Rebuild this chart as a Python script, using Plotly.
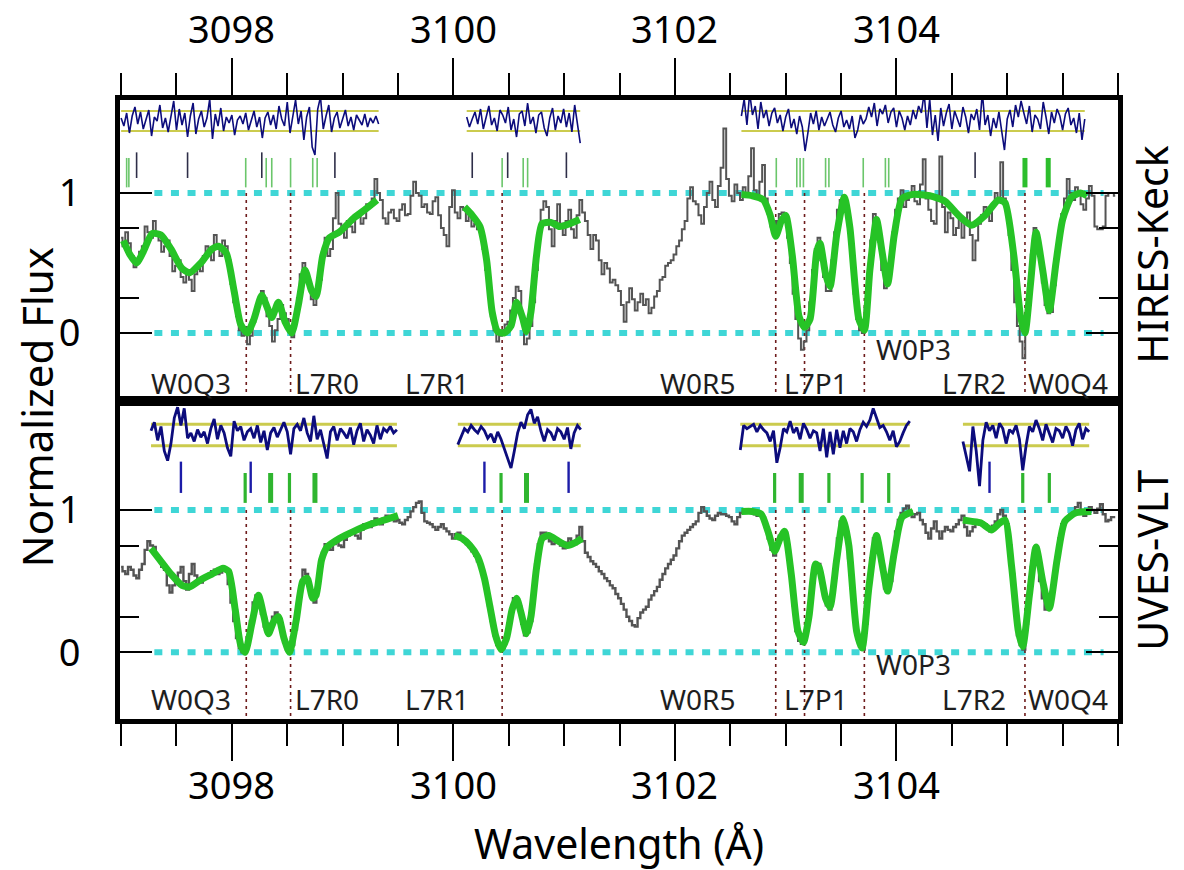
import numpy as np
import plotly.graph_objects as go

# ---------------------------------------------------------------- data
# HIRES spectrum, sampled every 0.025 Å from 3097.00 Å
HIRES_START = 3097.00
HIRES_STEP = 0.025
flux_hires = [
    0.68, 0.62, 0.72, 0.64, 0.55, 0.47, 0.50, 0.58, 0.62, 0.76, 0.72, 0.68, 0.80, 0.70, 0.66, 0.58, 0.62, 0.66, 0.55, 0.44,
    0.48, 0.52, 0.40, 0.36, 0.45, 0.38, 0.30, 0.42, 0.48, 0.44, 0.55, 0.62, 0.58, 0.52, 0.70, 0.60, 0.55, 0.66, 0.62, 0.52,
    0.35, 0.22, 0.12, 0.02, -0.02, 0.04, -0.08, -0.02, 0.08, 0.18, 0.24, 0.30, 0.25, 0.12, 0.05, -0.06, 0.02, 0.10, 0.20, 0.14,
    0.10, 0.02, -0.03, 0.10, 0.25, 0.42, 0.50, 0.44, 0.35, 0.24, 0.20, 0.30, 0.38, 0.58, 0.68, 0.55, 0.60, 0.82, 1.00, 0.78,
    0.74, 0.68, 0.80, 0.76, 0.72, 0.84, 0.86, 0.78, 0.82, 0.92, 0.90, 0.96, 1.10, 1.00, 0.95, 0.82, 0.78, 0.86, 0.88, 0.82,
    0.80, 0.88, 0.92, 0.84, 0.85, 0.98, 1.08, 1.00, 0.98, 0.90, 0.92, 0.86, 0.85, 0.94, 0.97, 0.84, 0.75, 0.70, 0.62, 0.90,
    1.02, 0.86, 0.82, 0.90, 0.88, 0.80, 0.84, 0.76, 0.78, 0.74, 0.72, 0.60, 0.45, 0.28, 0.12, 0.02, -0.06, -0.02, 0.02, 0.06,
    0.08, 0.16, 0.25, 0.33, 0.30, 0.12, -0.08, -0.04, 0.05, 0.22, 0.45, 0.70, 0.88, 0.94, 0.90, 0.74, 0.62, 0.80, 0.92, 0.78,
    0.70, 0.80, 0.88, 0.74, 0.68, 0.84, 0.95, 0.86, 0.80, 0.70, 0.60, 0.70, 0.66, 0.52, 0.42, 0.50, 0.46, 0.36, 0.38, 0.34,
    0.30, 0.20, 0.08, 0.22, 0.32, 0.24, 0.16, 0.22, 0.28, 0.20, 0.24, 0.14, 0.18, 0.26, 0.30, 0.38, 0.40, 0.48, 0.50, 0.52,
    0.56, 0.62, 0.66, 0.74, 0.80, 0.96, 1.04, 0.94, 0.92, 0.84, 0.78, 0.90, 1.00, 1.08, 0.95, 0.90, 1.05, 1.18, 1.46, 1.10,
    0.98, 0.94, 1.06, 1.00, 0.95, 1.04, 1.00, 1.12, 1.32, 1.02, 0.97, 1.08, 1.20, 0.96, 0.85, 0.76, 0.70, 0.80, 0.85, 0.86,
    0.80, 0.68, 0.50, 0.28, 0.10, -0.04, -0.12, -0.06, 0.02, 0.22, 0.45, 0.60, 0.68, 0.52, 0.40, 0.30, 0.30, 0.52, 0.72, 0.88,
    0.95, 0.98, 0.90, 0.74, 0.55, 0.28, 0.10, 0.02, 0.00, 0.18, 0.40, 0.66, 0.85, 0.78, 0.65, 0.45, 0.32, 0.38, 0.50, 0.72,
    0.88, 0.96, 1.02, 0.90, 0.95, 1.00, 1.05, 0.94, 0.92, 1.06, 1.24, 0.96, 0.88, 0.80, 0.78, 0.98, 1.26, 0.90, 0.72, 0.86,
    0.82, 0.70, 0.75, 0.82, 0.68, 0.78, 0.86, 0.70, 0.52, 0.66, 0.78, 0.84, 0.90, 0.86, 0.80, 0.92, 1.00, 0.94, 1.22, 0.96,
    0.88, 0.70, 0.45, 0.22, 0.05, -0.06, -0.18, 0.08, 0.30, 0.56, 0.75, 0.68, 0.55, 0.36, 0.20, 0.14, 0.15, 0.34, 0.55, 0.72,
    0.85, 0.96, 1.10, 1.00, 0.95, 1.04, 1.00, 0.92, 0.88, 0.96, 1.05, 0.98, 0.76, 0.74, 0.74, 0.76, 0.98, 1.00, 1.00, 0.98,
]

# UVES spectrum, sampled every 0.025 Å from 3097.00 Å
UVES_START = 3097.00
UVES_STEP = 0.025
flux_uves = [
    0.60, 0.57, 0.55, 0.60, 0.58, 0.54, 0.52, 0.58, 0.62, 0.72, 0.78, 0.75, 0.74, 0.68, 0.65, 0.60, 0.58, 0.47, 0.42, 0.47,
    0.50, 0.56, 0.60, 0.50, 0.44, 0.55, 0.62, 0.54, 0.50, 0.49, 0.52, 0.54, 0.55, 0.57, 0.58, 0.55, 0.56, 0.59, 0.58, 0.48,
    0.35, 0.22, 0.10, 0.03, 0.00, 0.04, 0.10, 0.22, 0.35, 0.40, 0.38, 0.27, 0.18, 0.16, 0.20, 0.25, 0.28, 0.22, 0.15, 0.07,
    0.02, 0.01, 0.05, 0.16, 0.30, 0.46, 0.58, 0.55, 0.48, 0.40, 0.35, 0.46, 0.60, 0.70, 0.76, 0.73, 0.72, 0.76, 0.78, 0.75,
    0.74, 0.79, 0.82, 0.84, 0.85, 0.82, 0.80, 0.86, 0.90, 0.88, 0.88, 0.92, 0.94, 0.91, 0.90, 0.94, 0.96, 0.94, 0.95, 0.92,
    0.93, 0.91, 0.90, 0.93, 0.95, 0.99, 1.02, 1.05, 1.06, 0.98, 0.92, 0.91, 0.90, 0.88, 0.86, 0.88, 0.90, 0.87, 0.85, 0.83,
    0.80, 0.83, 0.84, 0.80, 0.78, 0.76, 0.74, 0.71, 0.68, 0.64, 0.60, 0.53, 0.45, 0.33, 0.22, 0.12, 0.05, 0.03, 0.03, 0.10,
    0.20, 0.30, 0.38, 0.36, 0.32, 0.20, 0.12, 0.14, 0.22, 0.42, 0.62, 0.76, 0.84, 0.84, 0.82, 0.78, 0.76, 0.77, 0.78, 0.75,
    0.73, 0.77, 0.80, 0.78, 0.76, 0.82, 0.88, 0.78, 0.70, 0.67, 0.64, 0.62, 0.60, 0.57, 0.55, 0.52, 0.50, 0.47, 0.45, 0.41,
    0.38, 0.34, 0.30, 0.25, 0.22, 0.19, 0.18, 0.24, 0.28, 0.30, 0.32, 0.37, 0.40, 0.43, 0.46, 0.51, 0.55, 0.59, 0.62, 0.65,
    0.68, 0.73, 0.78, 0.82, 0.84, 0.86, 0.88, 0.90, 0.92, 0.98, 1.02, 0.99, 0.96, 0.94, 0.93, 0.96, 0.98, 0.97, 0.97, 0.96,
    0.95, 0.92, 0.90, 0.95, 0.98, 0.99, 1.00, 1.00, 0.99, 0.97, 0.96, 0.96, 0.95, 0.88, 0.80, 0.72, 0.68, 0.76, 0.82, 0.84,
    0.84, 0.72, 0.55, 0.33, 0.15, 0.08, 0.06, 0.12, 0.22, 0.40, 0.55, 0.60, 0.62, 0.50, 0.40, 0.33, 0.30, 0.45, 0.62, 0.80,
    0.92, 0.90, 0.85, 0.66, 0.45, 0.24, 0.10, 0.04, 0.02, 0.20, 0.45, 0.66, 0.80, 0.76, 0.70, 0.58, 0.45, 0.46, 0.50, 0.68,
    0.85, 0.93, 0.98, 1.01, 1.03, 0.99, 0.95, 0.97, 0.98, 0.93, 0.90, 0.84, 0.80, 0.87, 0.92, 0.85, 0.80, 0.85, 0.88, 0.86,
    0.85, 0.88, 0.90, 0.93, 0.96, 0.88, 0.82, 0.85, 0.88, 0.91, 0.92, 0.91, 0.90, 0.87, 0.85, 0.89, 0.92, 0.97, 1.00, 0.96,
    0.90, 0.75, 0.55, 0.32, 0.12, 0.05, 0.02, 0.20, 0.42, 0.60, 0.72, 0.62, 0.50, 0.38, 0.30, 0.32, 0.38, 0.52, 0.65, 0.80,
    0.90, 0.93, 0.95, 0.97, 0.98, 1.02, 1.05, 1.00, 0.96, 0.99, 1.02, 1.00, 0.98, 1.01, 1.04, 0.97, 0.92, 0.93, 0.95, 0.95,
]

# Fitted absorption models (wavelength, flux) for each fitted window
model_hires = [
    ([3097.02, 3097.08, 3097.14, 3097.20, 3097.28, 3097.36, 3097.45, 3097.55, 3097.62,
      3097.72, 3097.82, 3097.88, 3097.95, 3098.02, 3098.08, 3098.14, 3098.20, 3098.27,
      3098.32, 3098.36, 3098.42, 3098.48, 3098.54, 3098.60, 3098.66, 3098.72, 3098.76,
      3098.82, 3098.88, 3098.97, 3099.10, 3099.20, 3099.31],
     [0.66, 0.56, 0.50, 0.58, 0.71, 0.70, 0.60, 0.46, 0.43,
      0.50, 0.60, 0.62, 0.57, 0.30, 0.06, 0.00, 0.10, 0.27,
      0.18, 0.11, 0.22, 0.08, 0.00, 0.20, 0.45, 0.30, 0.26,
      0.55, 0.68, 0.72, 0.82, 0.88, 0.95]),
    ([3100.10, 3100.17, 3100.24, 3100.30, 3100.35, 3100.40, 3100.46, 3100.52, 3100.57,
      3100.62, 3100.66, 3100.70, 3100.75, 3100.80, 3100.88, 3100.96, 3101.05, 3101.14],
     [0.90, 0.84, 0.76, 0.52, 0.15, 0.01, 0.00, 0.05, 0.22,
      0.12, 0.01, 0.15, 0.55, 0.78, 0.79, 0.76, 0.78, 0.81]),
    ([3102.60, 3102.70, 3102.80, 3102.86, 3102.91, 3102.96, 3103.00, 3103.06, 3103.12,
      3103.17, 3103.22, 3103.28, 3103.31, 3103.36, 3103.40, 3103.46, 3103.53, 3103.58,
      3103.66, 3103.71, 3103.76, 3103.82, 3103.87, 3103.92, 3103.98, 3104.05, 3104.15,
      3104.30, 3104.44, 3104.56, 3104.68, 3104.80, 3104.92, 3104.98, 3105.06, 3105.12,
      3105.16, 3105.21, 3105.26, 3105.32, 3105.38, 3105.44, 3105.50, 3105.58, 3105.66,
      3105.72],
     [0.99, 0.98, 0.95, 0.84, 0.69, 0.80, 0.84, 0.55, 0.12,
      0.04, 0.10, 0.58, 0.64, 0.42, 0.33, 0.70, 0.97, 0.75,
      0.10, 0.02, 0.45, 0.81, 0.58, 0.35, 0.70, 0.96, 0.99,
      0.98, 0.94, 0.84, 0.77, 0.84, 0.95, 0.93, 0.55, 0.12,
      0.00, 0.35, 0.72, 0.45, 0.16, 0.50, 0.81, 0.97, 1.00,
      0.98]),
]

model_uves = [
    ([3097.27, 3097.35, 3097.45, 3097.55, 3097.62, 3097.72, 3097.82, 3097.92, 3097.97,
      3098.03, 3098.08, 3098.12, 3098.18, 3098.24, 3098.29, 3098.33, 3098.38, 3098.42,
      3098.47, 3098.52, 3098.58, 3098.64, 3098.68, 3098.73, 3098.76, 3098.81, 3098.86,
      3098.97, 3099.10, 3099.25, 3099.38, 3099.50],
     [0.73, 0.65, 0.55, 0.47, 0.46, 0.51, 0.55, 0.59, 0.57,
      0.30, 0.05, 0.00, 0.20, 0.40, 0.25, 0.13, 0.22, 0.25,
      0.10, 0.00, 0.22, 0.50, 0.52, 0.38, 0.40, 0.65, 0.74,
      0.80, 0.85, 0.90, 0.93, 0.96]),
    ([3100.01, 3100.08, 3100.15, 3100.22, 3100.28, 3100.33, 3100.38, 3100.43, 3100.48,
      3100.53, 3100.57, 3100.61, 3100.66, 3100.70, 3100.75, 3100.80, 3100.86, 3100.95,
      3101.03, 3101.10, 3101.16],
     [0.82, 0.80, 0.75, 0.67, 0.52, 0.32, 0.12, 0.02, 0.10,
      0.30, 0.38, 0.28, 0.13, 0.25, 0.59, 0.80, 0.82, 0.78,
      0.75, 0.77, 0.80]),
    ([3102.60, 3102.70, 3102.78, 3102.84, 3102.90, 3102.95, 3102.99, 3103.05, 3103.11,
      3103.16, 3103.21, 3103.27, 3103.30, 3103.36, 3103.40, 3103.46, 3103.52, 3103.57,
      3103.64, 3103.69, 3103.75, 3103.82, 3103.87, 3103.92, 3103.98, 3104.05, 3104.15],
     [0.99, 0.99, 0.97, 0.85, 0.71, 0.80, 0.85, 0.55, 0.15,
      0.07, 0.25, 0.62, 0.60, 0.38, 0.32, 0.65, 0.94, 0.75,
      0.15, 0.03, 0.45, 0.82, 0.62, 0.43, 0.70, 0.95, 0.99]),
    ([3104.60, 3104.68, 3104.76, 3104.86, 3104.92, 3104.98, 3105.04, 3105.10, 3105.14,
      3105.20, 3105.26, 3105.32, 3105.38, 3105.45, 3105.52, 3105.62, 3105.76],
     [0.93, 0.92, 0.91, 0.86, 0.90, 0.93, 0.60, 0.15, 0.04,
      0.40, 0.74, 0.50, 0.31, 0.65, 0.92, 0.98, 0.99]),
]

# Normalised fit residuals (in units of sigma): (start wavelength, step, values)
resid_hires = [
    (3097.00, 0.025, [
        0.3, -0.5, 0.8, -1.2, 0.5, 1.4, -0.3, 0.9, -0.8, 0.2, 1.1, -1.5, 0.4, 0.0, 1.6,
        -0.7, 0.3, -1.1, 0.6, 2.0, -0.9, 1.2, -0.4, 0.8, -1.6, 0.5, 1.8, -1.3, 0.2, 1.0,
        -0.6, 0.3, 2.2, -1.8, 0.7, -0.5, 1.3, -1.0, 0.4, -0.2, 0.6, -1.4, 0.1, 0.5, -0.3,
        0.8, -0.9, 0.2, 1.0, -0.6, 0.4, -1.7, 0.3, 0.9, -0.4, 0.6, -0.8, 1.5, 0.2, -0.5,
        1.9, -1.2, 0.7, 2.1, -0.3, 1.0, -1.9, 0.4, 1.4, -2.6, -3.4, 1.2, 2.4, -0.8, 0.5,
        1.6, -1.1, 0.3, 0.9, -0.7, 0.2, 1.1, -0.5, 0.4, -0.9, 0.6, 0.1, -0.4, 0.7, -0.6,
        0.3, -0.2, 0.5, -0.3]),
    (3100.12, 0.025, [
        0.4, -0.6, 0.2, 0.9, -0.3, 1.2, -0.8, 0.5, 1.5, -0.4, 0.3, -1.0, 1.1, 0.6, -0.2,
        1.4, -0.9, 0.2, -1.6, 0.7, 1.0, -0.5, 1.8, -0.3, 0.4, -1.2, 0.6, 0.9, -0.7, -1.5,
        0.3, 1.3, -0.9, 0.5, -0.2, 1.2, -0.6, 0.8, -1.1, 1.6, -0.4, -2.2]),
    (3102.60, 0.025, [
        0.5, 2.2, -0.4, 2.8, 0.6, 1.5, -0.8, 1.9, 0.3, 1.1, -0.5, 0.8, 1.3, -0.2, 0.6,
        -1.0, 0.4, 1.2, -0.7, 0.2, -1.3, 0.5, -0.6, -3.0, -1.2, 0.8, -0.3, 1.0, -0.9, 0.4,
        -0.5, 0.2, 0.9, -0.4, -1.1, 0.3, 1.0, -0.6, 0.1, -0.8, 0.5, -1.7, -0.9, 0.6, -0.3,
        0.2, 1.4, 0.4, 1.8, -0.5, 1.2, 0.7, 1.6, -0.2, 0.9, 1.3, -0.6, 1.0, 0.3, -0.9,
        0.5, -0.4, 1.1, 0.2, 1.5, 0.8, 2.8, -0.7, 2.2, -1.4, 0.6, -2.0, 1.3, -0.5, 0.8,
        1.7, -0.8, 1.0, 0.2, -0.6, 1.4, 0.4, -1.2, 0.7, 0.1, 1.2, -0.9, 2.9, -0.4, 0.6,
        -1.5, 0.3, -0.7, 0.9, -1.0, -2.9, 0.2, 1.1, -0.6, 1.6, 0.4, 2.0, 0.8, -0.3, 1.5,
        -1.1, 0.6, 0.2, -0.8, 1.9, 0.4, -1.3, 0.9, -0.2, 1.2, 0.5, -0.9, 0.7, 1.3, -0.4,
        0.3, -1.2, 0.8, -1.9, 0.2]),
]

resid_uves = [
    (3097.27, 0.03, [
        0.4, 1.2, -0.5, 0.8, -1.5, -2.4, -0.8, 1.6, 2.6, 0.9, 2.5, -0.3, 0.2, -0.6, 0.5,
        -0.2, 0.3, -0.8, 0.6, 1.5, -0.4, 0.9, 0.2, -1.2, -2.0, 1.3, 0.4, 0.8, -0.5, 0.3,
        0.6, -0.3, 0.9, -0.7, 0.4, -1.4, 0.2, 0.7, -0.2, 0.5, 1.2, 0.3, -1.8, 0.6, 1.0,
        0.4, 1.6, 0.2, -0.6, 1.8, -0.4, 0.5, -1.0, -2.2, 0.3, 0.8, -0.5, 0.6, 0.2, -0.3,
        0.7, -0.9, 0.4, 1.1, -0.6, 0.5, 0.0, -0.8, 0.9, -0.4, 0.6, 0.3, 0.8, 0.2, 0.5]),
    (3100.04, 0.03, [
        -0.9, -0.2, 0.6, 0.3, 0.9, 0.5, 0.2, 0.8, 0.4, -0.3, 0.1, -0.7, 0.3, -0.4, -1.3,
        -2.0, -3.1, -1.5, 0.2, 1.2, 0.6, 1.9, 2.4, 1.1, 1.7, 0.4, -0.6, 0.5, 0.2, -0.5,
        0.6, 0.3, -0.4, 0.7, -1.3, 0.2, 0.9, 0.5]),
    (3102.59, 0.03, [
        -1.4, 0.9, 0.6, 0.8, 1.0, 0.3, 0.9, 0.5, 0.2, -0.6, 0.4, -2.6, -1.2, 0.6, 0.3,
        1.3, 0.2, 0.7, -0.4, 1.1, 0.5, -0.3, 0.4, 0.2, -1.5, 0.6, -2.1, 0.3, -1.8, 0.5,
        -1.2, 0.4, -0.8, 0.6, 0.3, -0.6, 0.5, 1.2, 0.8, 1.4, 2.5, 1.6, 0.7, 0.9, 0.3,
        -0.5, 0.4, -1.1, -0.6, 0.2, 0.9, 1.3]),
    (3104.60, 0.03, [
        -0.6, -2.0, -3.4, 0.8, -1.5, -4.8, -0.5, 1.2, 0.4, 0.9, -0.3, 1.1, 0.6, -0.8, 0.5,
        0.2, 0.9, -0.4, -3.3, -1.0, 0.8, 0.3, 1.4, 0.6, -0.5, 1.0, 0.2, -0.7, 0.6, 0.4,
        -0.3, 0.8, 0.2, -1.0, 0.5, 1.1, -0.4, 0.6, 0.3]),
]

# Positions of the fitted velocity components (Å)
comp_h2_hires = [3097.05, 3097.07, 3098.125, 3098.31, 3098.36, 3098.53, 3098.73, 3098.77,
                 3100.44, 3100.63, 3100.67, 3102.915, 3103.10, 3103.13, 3103.16, 3103.36,
                 3103.39, 3103.70, 3103.90, 3103.93]
comp_h2_hires_strong = [3105.16, 3105.37]
comp_other_hires = [3097.14, 3097.60, 3098.27, 3098.93, 3100.17, 3100.49, 3101.02, 3104.71]

comp_h2_uves = [3098.12, 3098.52, 3100.43, 3102.90, 3103.39, 3103.69, 3103.93, 3105.14, 3105.38]
comp_h2_uves_strong = [3098.35, 3098.75, 3100.66, 3103.14]
comp_other_uves = [3097.54, 3098.17, 3100.28, 3101.04, 3104.84]

# Transition identifications
line_names = ["W0Q3", "L7R0", "L7R1", "W0R5", "L7P1", "W0P3", "L7R2", "W0Q4"]
line_label_wave = [3097.63, 3098.86, 3099.85, 3102.21, 3103.27, 3104.15, 3104.70, 3105.55]
line_marker_wave = [3098.13, 3098.53, 3100.44, 3102.91, 3103.17, 3103.71, 3105.16]

x_ticks = [3098, 3100, 3102, 3104]

# ---------------------------------------------------------------- style
FONT = "Noto Sans"
GREY = "#545454"
GREEN = "#26C326"
CYAN = "#3FD6D6"
NAVY = "#0C0C7C"
YELLOW = "#CBCB4E"
MAROON = "#6E1C1C"

X_RANGE = [3096.99, 3106.0]
Y_RANGE_TOP = [-0.486, 1.664]
Y_RANGE_BOT = [-0.469, 1.766]
SPLIT = 0.5137

RES_CENTER = {"top": 1.514, "bot": 1.527}
RES_SCALE = {"top": 0.0715, "bot": 0.075}

fig = go.Figure()


def add(trace, panel):
    if panel == "bot":
        trace.update(xaxis="x2", yaxis="y2")
    fig.add_trace(trace)


def segments(xs, y0, y1):
    xx, yy = [], []
    for x in xs:
        xx += [x, x, None]
        yy += [y0, y1, None]
    return xx, yy


panels = [
    ("top", (HIRES_START, HIRES_STEP, flux_hires), model_hires, resid_hires,
     [(comp_h2_hires, "#6BC66B", 1.6, 1.04, 1.25),
      (comp_h2_hires_strong, "#2DBE2D", 5, 1.04, 1.25),
      (comp_other_hires, "#2E2E48", 1.6, 1.107, 1.29)],
     Y_RANGE_TOP, 1.6, 2.0, 2.0, (-0.357, -0.114)),
    ("bot", (UVES_START, UVES_STEP, flux_uves), model_uves, resid_uves,
     [(comp_h2_uves, "#2FB52F", 3.2, 1.05, 1.26),
      (comp_h2_uves_strong, "#2FB52F", 5, 1.05, 1.26),
      (comp_other_uves, "#1C1CA8", 2.4, 1.12, 1.34)],
     Y_RANGE_BOT, 2.8, 3.0, 2.4, (-0.328, -0.082)),
]

for (panel, spec, models, resids, comps, yr, res_w, yel_w, grey_w, lab_y) in panels:
    # continuum and zero levels
    for level in (0.0, 1.0):
        add(go.Scatter(x=[3097.30, 3105.87], y=[level, level], mode="lines",
                       line=dict(color=CYAN, width=6, dash="8px,8.6px"),
                       hoverinfo="skip"), panel)
    # transition markers
    mx, my = segments(line_marker_wave, 1.0, yr[0])
    add(go.Scatter(x=mx, y=my, mode="lines",
                   line=dict(color=MAROON, width=1.6, dash="3px,4px"),
                   hoverinfo="skip"), panel)
    # observed spectrum
    start, step, flux = spec
    wave = start + step * np.arange(len(flux))
    add(go.Scatter(x=wave, y=flux, mode="lines", line_shape="hvh",
                   line=dict(color=GREY, width=grey_w)), panel)
    # model fits
    for mw, mf in models:
        add(go.Scatter(x=mw, y=mf, mode="lines", line_shape="spline",
                       line=dict(color=GREEN, width=7, smoothing=0.6)), panel)
    # component ticks
    for pos, col, w, y0, y1 in comps:
        tx, ty = segments(pos, y0, y1)
        add(go.Scatter(x=tx, y=ty, mode="lines", line=dict(color=col, width=w),
                       hoverinfo="skip"), panel)
    # residuals with +-1 sigma band
    c, s = RES_CENTER[panel], RES_SCALE[panel]
    for rstart, rstep, vals in resids:
        rw = rstart + rstep * np.arange(len(vals))
        for band in (-1, 1):
            add(go.Scatter(x=[rw[0], rw[-1]], y=[c + band * s] * 2, mode="lines",
                           line=dict(color=YELLOW, width=yel_w), hoverinfo="skip"), panel)
        add(go.Scatter(x=rw, y=c + s * np.array(vals), mode="lines",
                       line=dict(color=NAVY, width=res_w)), panel)
    # transition names
    for name, lw in zip(line_names, line_label_wave):
        fig.add_annotation(x=lw, y=lab_y[1] if name == "W0P3" else lab_y[0],
                           xref="x" if panel == "top" else "x2",
                           yref="y" if panel == "top" else "y2",
                           text=name, showarrow=False,
                           font=dict(family=FONT, size=28, color="#1E1E1E"))

# wavelength labels on the top and bottom axes
for xt in x_ticks:
    for xr, ypos in (("x", 1.1163), ("x2", -0.1050)):
        fig.add_annotation(x=xt, y=ypos, xref=xr, yref="paper", text=str(xt),
                           showarrow=False, xanchor="center", yanchor="middle",
                           font=dict(family=FONT, size=38, color="black"))

axis_common = dict(showgrid=False, zeroline=False, showline=True, linewidth=5,
                   linecolor="black", tickcolor="black", tickwidth=2, automargin=False,
                   tickfont=dict(family=FONT, size=38, color="black"))

xcommon = dict(range=X_RANGE, tickmode="array", tickvals=x_ticks, showticklabels=False,
               ticks="outside", ticklen=37, mirror=True,
               minor=dict(tickmode="linear", tick0=3097, dtick=0.5, ticks="outside",
                          ticklen=22, tickwidth=2, tickcolor="black"),
               **axis_common)

ycommon = dict(tickmode="array", tickvals=[0, 1], ticktext=["0", "1"],
               ticks="inside", ticklen=32, mirror="allticks",
               ticklabelstandoff=27,
               minor=dict(tickmode="array", tickvals=[0.25, 0.75], ticks="inside",
                          ticklen=19, tickwidth=2, tickcolor="black"),
               **axis_common)

fig.update_layout(
    width=1184, height=870,
    margin=dict(l=120, r=66, t=100, b=151),
    paper_bgcolor="white", plot_bgcolor="white",
    showlegend=False,
    font=dict(family=FONT, color="black"),
    xaxis=dict(domain=[0, 1], anchor="y", side="top", **xcommon),
    xaxis2=dict(domain=[0, 1], anchor="y2", side="bottom", matches="x", **xcommon),
    yaxis=dict(domain=[SPLIT, 1], anchor="x", range=Y_RANGE_TOP, **ycommon),
    yaxis2=dict(domain=[0, SPLIT], anchor="x2", range=Y_RANGE_BOT, **ycommon),
)

# axis titles and instrument names
fig.add_annotation(xref="paper", yref="paper", x=-0.084, y=0.504, text="Normalized Flux",
                   textangle=-90, showarrow=False, xanchor="center", yanchor="middle",
                   font=dict(family=FONT, size=42))
fig.add_annotation(xref="paper", yref="paper", x=0.5, y=-0.2, text="Wavelength (Å)",
                   showarrow=False, xanchor="center", yanchor="middle",
                   font=dict(family=FONT, size=41))
fig.add_annotation(xref="paper", yref="paper", x=1.034, y=0.75, text="HIRES-Keck",
                   textangle=-90, showarrow=False, xanchor="center", yanchor="middle",
                   font=dict(family=FONT, size=41))
fig.add_annotation(xref="paper", yref="paper", x=1.034, y=0.257, text="UVES-VLT",
                   textangle=-90, showarrow=False, xanchor="center", yanchor="middle",
                   font=dict(family=FONT, size=41))

fig.write_html("out.html")
